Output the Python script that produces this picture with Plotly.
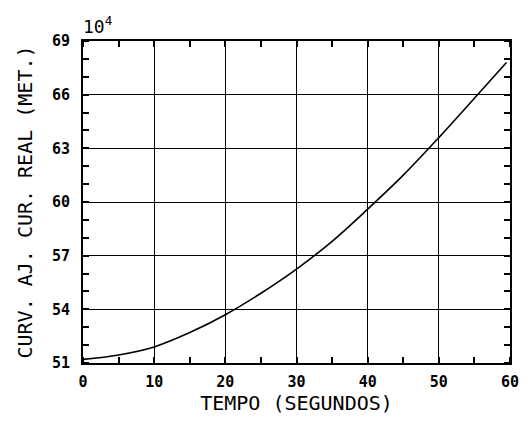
import plotly.graph_objects as go

tempo = [0, 5, 10, 15, 20, 25, 30, 35, 40, 45, 50, 55, 59.5]
curva = [51.2, 51.45, 51.9, 52.7, 53.7, 54.9, 56.25, 57.8, 59.6, 61.5, 63.6, 65.8, 67.8]

x_ticks = [0, 10, 20, 30, 40, 50, 60]
y_ticks = [51, 54, 57, 60, 63, 66, 69]

FONT = "DejaVu Sans Mono"

fig = go.Figure()
fig.add_trace(go.Scatter(x=tempo, y=curva, mode="lines", line=dict(color="black", width=1.6, shape="spline"),
                         showlegend=False, hoverinfo="skip"))

axis_common = dict(
    showgrid=True, gridcolor="black", gridwidth=1.4,
    showline=True, linecolor="black", linewidth=2, mirror="allticks",
    zeroline=False, ticks="", color="black",
    tickfont=dict(family=FONT, size=15, color="black", weight="bold"),
)

fig.update_xaxes(
    range=[0, 60], tickvals=x_ticks, ticktext=[str(v) for v in x_ticks],
    minor=dict(dtick=5, tick0=0, ticks="inside", ticklen=6, tickcolor="black", tickwidth=1.5, showgrid=False),
    title=dict(text="TEMPO (SEGUNDOS)", font=dict(family=FONT, size=20, color="black"), standoff=6),
    ticklabelstandoff=4,
    **axis_common,
)
fig.update_yaxes(
    range=[51, 69], tickvals=y_ticks, ticktext=[str(v) for v in y_ticks],
    minor=dict(dtick=1, tick0=51, ticks="inside", ticklen=6, tickcolor="black", tickwidth=1.5, showgrid=False),
    title=dict(text="CURV. AJ. CUR. REAL (MET.)", font=dict(family=FONT, size=20, color="black"), standoff=14),
    ticklabelstandoff=8,
    **axis_common,
)

fig.add_annotation(x=0, y=1, xref="paper", yref="paper", text="10<sup>4</sup>",
                   showarrow=False, xanchor="left", yanchor="bottom", xshift=-2, yshift=2,
                   font=dict(family=FONT, size=18, color="black"))

fig.update_layout(
    width=531, height=424,
    margin=dict(l=83, r=15, t=41, b=61),
    paper_bgcolor="white", plot_bgcolor="white",
)

fig.write_html("out.html")
